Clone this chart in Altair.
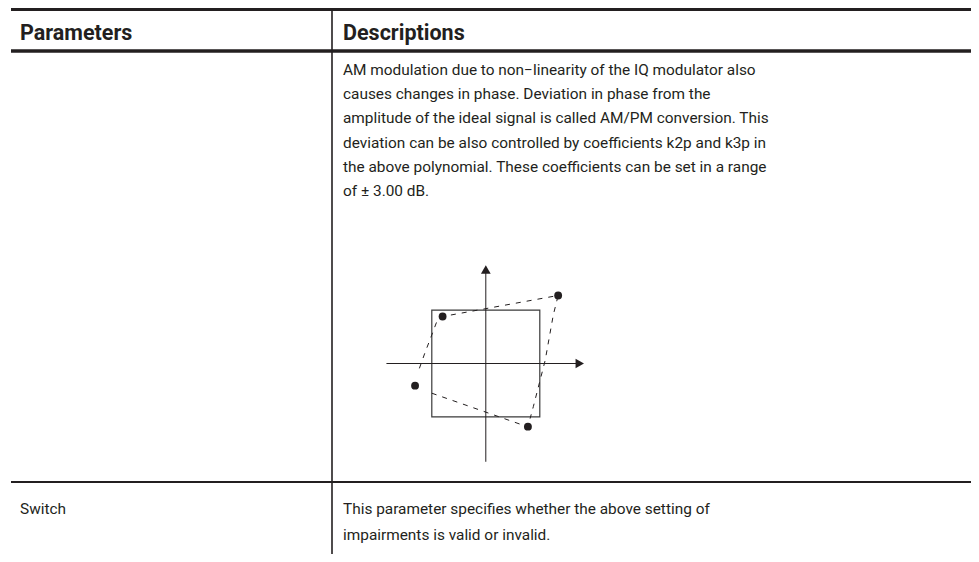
import altair as alt
import pandas as pd

# ---------------- content ----------------
header_labels = ["Parameters", "Descriptions"]
row1_desc = [
    "AM modulation due to non\u2212linearity of the IQ modulator also",
    "causes changes in phase. Deviation in phase from the",
    "amplitude of the ideal signal is called AM/PM conversion. This",
    "deviation can be also controlled by coefficients k2p and k3p in",
    "the above polynomial. These coefficients can be set in a range",
    "of  \u00b1 3.00 dB.",
]
row2_param = ["Switch"]
row2_desc = [
    "This parameter specifies whether the above setting of",
    "impairments is valid or invalid.",
]

# diagram (units: half side of the ideal square = 1)
ideal_x = [-1.0]
ideal_x2 = [1.0]
ideal_y = [-0.99]
ideal_y2 = [0.99]
dot_x = [-0.80, 1.34, -1.31, 0.78]
dot_y = [0.87, 1.26, -0.41, -1.17]
# distorted (dashed) outline, two strokes
dash_x = [-1.23, -1.13, -1.00, -0.91, -0.80, 1.34, 1.25, 1.10, 0.88, 0.82, -1.00, 0.74]
dash_y = [-0.09, 0.19, 0.53, 0.77, 0.87, 1.26, 0.90, 0.06, -0.80, -1.02, -0.55, -1.16]
dash_seg = ["a"] * 10 + ["b"] * 2
axis_h_x = [-1.84, 1.76]
axis_v_y = [-1.82, 1.76]
arrow_x = [1.74, 0.0]
arrow_y = [0.0, 1.74]
arrow_shape = ["triangle-right", "triangle-up"]

# ---------------- layout (chart pixels) ----------------
W, H = 963, 546
INK = "#231f20"
FONT = "Roboto, 'Liberation Sans', sans-serif"
COL_X = [12, 335]
SEP_X = 324
TOP_Y, HEAD_Y, ROW_Y = 1.5, 43, 474
HEAD_BASE = 32
BODY_BASE, LEAD = 67, 24.2
ROW2_BASE, LEAD2 = 506, 26
CX, CY, UNIT = 477.8, 355.5, 54

rules = pd.DataFrame({
    "x": [3, 3, SEP_X, 3],
    "x2": [W, W, SEP_X, W],
    "y": [TOP_Y, HEAD_Y, TOP_Y, ROW_Y],
    "y2": [TOP_Y, HEAD_Y, H, ROW_Y],
    "w": [3.2, 3.6, 1.6, 1.8],
})

head = pd.DataFrame({"text": header_labels, "x": COL_X, "y": [HEAD_BASE] * 2})
body_rows = []
for i, t in enumerate(row1_desc):
    body_rows.append({"text": t, "x": COL_X[1], "y": BODY_BASE + i * LEAD})
for i, t in enumerate(row2_param):
    body_rows.append({"text": t, "x": COL_X[0], "y": ROW2_BASE + i * LEAD2})
for i, t in enumerate(row2_desc):
    body_rows.append({"text": t, "x": COL_X[1], "y": ROW2_BASE + i * LEAD2})
body = pd.DataFrame(body_rows)

px = alt.Scale(domain=[0, W], range=[0, W], nice=False, zero=False)
py = alt.Scale(domain=[0, H], range=[0, H], nice=False, zero=False)

rule_layer = alt.Chart(rules).mark_rule(color=INK).encode(
    x=alt.X("x:Q", scale=px, axis=None),
    x2="x2:Q",
    y=alt.Y("y:Q", scale=py, axis=None),
    y2="y2:Q",
    strokeWidth=alt.StrokeWidth("w:Q", scale=None, legend=None),
)
head_layer = alt.Chart(head).mark_text(
    align="left", baseline="alphabetic", font=FONT, fontSize=21.5,
    fontWeight="bold", color=INK,
).encode(
    x=alt.X("x:Q", scale=px, axis=None),
    y=alt.Y("y:Q", scale=py, axis=None),
    text="text:N",
)
body_layer = alt.Chart(body).mark_text(
    align="left", baseline="alphabetic", font=FONT, fontSize=15.4, color=INK,
).encode(
    x=alt.X("x:Q", scale=px, axis=None),
    y=alt.Y("y:Q", scale=py, axis=None),
    text="text:N",
)

R = 2 * UNIT
dx = alt.Scale(domain=[-2, 2], range=[CX - R, CX + R], nice=False, zero=False)
dy = alt.Scale(domain=[-2, 2], range=[CY + R, CY - R], nice=False, zero=False)

sq = alt.Chart(pd.DataFrame({"x": ideal_x, "x2": ideal_x2, "y": ideal_y, "y2": ideal_y2})).mark_rect(
    fillOpacity=0, stroke="#3a3a3a", strokeWidth=1.2
).encode(
    x=alt.X("x:Q", scale=dx, axis=None), x2="x2:Q",
    y=alt.Y("y:Q", scale=dy, axis=None), y2="y2:Q",
)
hax = alt.Chart(pd.DataFrame({"x": [axis_h_x[0]], "x2": [axis_h_x[1]], "y": [0.0]})).mark_rule(
    color=INK, strokeWidth=1
).encode(
    x=alt.X("x:Q", scale=dx, axis=None), x2="x2:Q",
    y=alt.Y("y:Q", scale=dy, axis=None),
)
vax = alt.Chart(pd.DataFrame({"y": [axis_v_y[0]], "y2": [axis_v_y[1]], "x": [0.0]})).mark_rule(
    color=INK, strokeWidth=1
).encode(
    y=alt.Y("y:Q", scale=dy, axis=None), y2="y2:Q",
    x=alt.X("x:Q", scale=dx, axis=None),
)
arrows = alt.Chart(pd.DataFrame({"x": arrow_x, "y": arrow_y, "s": arrow_shape})).mark_point(
    filled=True, color=INK, size=95, opacity=1
).encode(
    x=alt.X("x:Q", scale=dx, axis=None),
    y=alt.Y("y:Q", scale=dy, axis=None),
    shape=alt.Shape("s:N", scale=None, legend=None),
)
dashed = alt.Chart(pd.DataFrame({"x": dash_x, "y": dash_y, "seg": dash_seg,
                                 "o": list(range(len(dash_x)))})).mark_line(
    color=INK, strokeWidth=1, strokeDash=[5, 6]
).encode(
    x=alt.X("x:Q", scale=dx, axis=None),
    y=alt.Y("y:Q", scale=dy, axis=None),
    detail="seg:N",
    order="o:Q",
)
dots = alt.Chart(pd.DataFrame({"x": dot_x, "y": dot_y})).mark_circle(
    color=INK, size=62, opacity=1
).encode(
    x=alt.X("x:Q", scale=dx, axis=None),
    y=alt.Y("y:Q", scale=dy, axis=None),
)

chart = alt.layer(
    rule_layer, head_layer, body_layer, sq, hax, vax, dashed, arrows, dots
).resolve_scale(
    x="independent", y="independent"
).properties(
    width=W, height=H, background="white", padding=0,
    autosize=alt.AutoSizeParams(type="none"),
).configure_view(stroke=None)

chart.save("out.html", embed_options={"renderer": "svg", "actions": False})
